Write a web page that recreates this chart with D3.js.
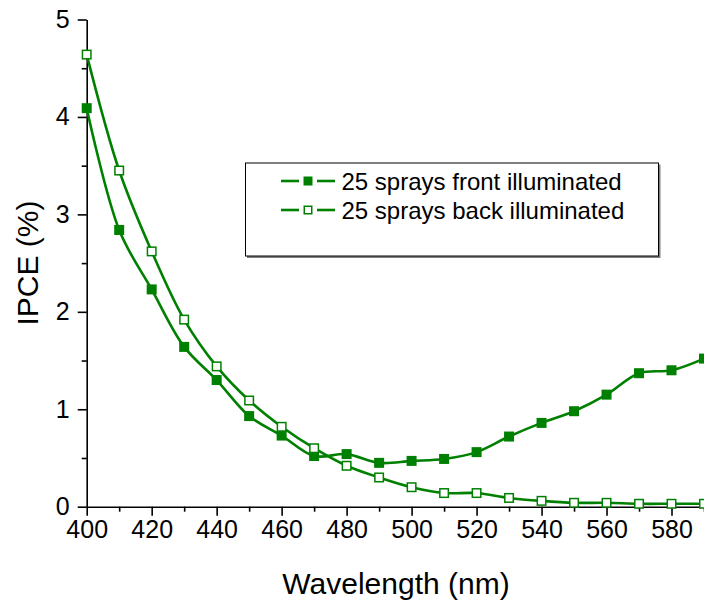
<!DOCTYPE html>
<html>
<head>
<meta charset="utf-8">
<script src="https://cdn.jsdelivr.net/npm/d3@7"></script>
<style>
    body { margin: 0; background: #fff; }
    text { font-family: Arial, "Liberation Sans", sans-serif; fill: #000; }
</style>
</head>
<body>
<svg id="chart"></svg>
<script>
// wavelength (nm)
const wavelengths = [400, 410, 420, 430, 440, 450, 460, 470, 480, 490, 500, 510, 520, 530, 540, 550, 560, 570, 580, 590];
// IPCE (%) for both illumination directions
const frontIpce = [4.09, 2.84, 2.23, 1.64, 1.30, 0.93, 0.73, 0.52, 0.54, 0.45, 0.47, 0.49, 0.56, 0.72, 0.86, 0.98, 1.15, 1.37, 1.40, 1.52];
const backIpce = [4.64, 3.45, 2.62, 1.92, 1.44, 1.09, 0.82, 0.60, 0.42, 0.30, 0.20, 0.14, 0.14, 0.09, 0.06, 0.04, 0.04, 0.03, 0.03, 0.03];
const seriesNames = ['25 sprays front illuminated', '25 sprays back illuminated'];
const xTicks = [400, 420, 440, 460, 480, 500, 520, 540, 560, 580];
const yTicks = [0, 1, 2, 3, 4, 5];

class LineChart {

    constructor(_config, _data) {
        this.config = {
            parentElement: _config.parentElement,
            containerWidth: _config.containerWidth || 704,
            containerHeight: _config.containerHeight || 600,
            margin: _config.margin || {top: 19.5, right: 0, bottom: 93.3, left: 86.7}
        }
        this.data = _data;
        this.initVis();
    }

    initVis() {
        let vis = this;

        vis.width = vis.config.containerWidth - vis.config.margin.left - vis.config.margin.right;
        vis.height = vis.config.containerHeight - vis.config.margin.top - vis.config.margin.bottom;

        vis.svg = d3.select(vis.config.parentElement)
            .attr('width', vis.config.containerWidth)
            .attr('height', vis.config.containerHeight);

        vis.chart = vis.svg.append('g')
            .attr('transform', `translate(${vis.config.margin.left},${vis.config.margin.top})`);

        vis.xScale = d3.scaleLinear()
            .domain([400, 590])
            .range([0, vis.width]);

        vis.yScale = d3.scaleLinear()
            .domain([0, 5])
            .range([vis.height, 0]);

        vis.green = '#008000';
        vis.renderVis();
    }

    renderVis() {
        let vis = this;

        // minor ticks first, then major ticks with labels
        vis.chart.append('g')
            .attr('transform', `translate(0,${vis.height})`)
            .call(d3.axisBottom(vis.xScale).tickValues(d3.range(410, 591, 20)).tickSize(5).tickFormat(''))
            .call(g => g.select('.domain').remove());

        vis.chart.append('g')
            .attr('transform', `translate(0,${vis.height})`)
            .call(d3.axisBottom(vis.xScale).tickValues(xTicks).tickSize(9).tickPadding(5).tickSizeOuter(0))
            .call(g => g.selectAll('text').style('font-size', '25px'))
            .call(g => g.selectAll('line, path').attr('stroke-width', 1.6));

        vis.chart.append('g')
            .call(d3.axisLeft(vis.yScale).tickValues(d3.range(0.5, 5, 1)).tickSize(5).tickFormat(''))
            .call(g => g.select('.domain').remove());

        vis.chart.append('g')
            .call(d3.axisLeft(vis.yScale).tickValues(yTicks).tickSize(9).tickPadding(8).tickSizeOuter(0).tickFormat(d3.format('d')))
            .call(g => g.selectAll('text').style('font-size', '25px'))
            .call(g => g.selectAll('line, path').attr('stroke-width', 1.6));

        vis.chart.selectAll('.tick line').attr('stroke-width', 1.6);

        // axis titles
        vis.svg.append('text')
            .attr('x', 396)
            .attr('y', 594)
            .style('text-anchor', 'middle')
            .style('font-size', '30px')
            .text('Wavelength (nm)');

        vis.svg.append('text')
            .attr('transform', `translate(38,${vis.config.margin.top + vis.height / 2}) rotate(-90)`)
            .style('text-anchor', 'middle')
            .style('font-size', '30px')
            .text('IPCE (%)');

        const line = d3.line()
            .x(d => vis.xScale(d.x))
            .y(d => vis.yScale(d.y))
            .curve(d3.curveCatmullRom.alpha(0.5));

        const series = vis.chart.selectAll('.series')
            .data(vis.data)
            .join('g')
            .attr('class', 'series');

        series.append('path')
            .attr('d', d => line(d.values))
            .attr('fill', 'none')
            .attr('stroke', vis.green)
            .attr('stroke-width', 2.6);

        const size = 10;
        series.selectAll('rect')
            .data(d => d.values.map(v => ({...v, filled: d.filled})))
            .join('rect')
            .attr('x', d => vis.xScale(d.x) - size / 2)
            .attr('y', d => vis.yScale(d.y) - size / 2)
            .attr('width', d => d.filled ? size : size - 1.5)
            .attr('height', d => d.filled ? size : size - 1.5)
            .attr('transform', d => d.filled ? null : 'translate(0.75,0.75)')
            .attr('fill', d => d.filled ? vis.green : '#fff')
            .attr('stroke', vis.green)
            .attr('stroke-width', d => d.filled ? 0 : 1.5);

        // legend box with grey shadow edges
        const lg = vis.svg.append('g').attr('transform', 'translate(245.5,163)');
        lg.append('rect')
            .attr('x', 1.5).attr('y', 1.5)
            .attr('width', 413.5).attr('height', 93.5)
            .attr('fill', '#808080');
        lg.append('rect')
            .attr('x', 0).attr('y', 0)
            .attr('width', 413).attr('height', 93)
            .attr('fill', '#fff')
            .attr('stroke', '#000')
            .attr('stroke-width', 1);

        vis.data.forEach((d, i) => {
            const row = lg.append('g').attr('transform', `translate(0,${18 + i * 29})`);
            row.append('line').attr('x1', 35.5).attr('x2', 53.5).attr('y1', 0).attr('y2', 0)
                .attr('stroke', vis.green).attr('stroke-width', 2.6);
            row.append('line').attr('x1', 71.5).attr('x2', 89.5).attr('y1', 0).attr('y2', 0)
                .attr('stroke', vis.green).attr('stroke-width', 2.6);
            const s = d.filled ? 9 : 7.5;
            row.append('rect')
                .attr('x', 62.5 - s / 2).attr('y', -s / 2)
                .attr('width', s).attr('height', s)
                .attr('fill', d.filled ? vis.green : '#fff')
                .attr('stroke', vis.green)
                .attr('stroke-width', d.filled ? 0 : 1.5);
            row.append('text')
                .attr('x', 96)
                .attr('y', 8.5)
                .style('font-size', '24px')
                .text(d.name);
        });
    }
}

const data = [
    {name: seriesNames[0], filled: true, values: wavelengths.map((w, i) => ({x: w, y: frontIpce[i]}))},
    {name: seriesNames[1], filled: false, values: wavelengths.map((w, i) => ({x: w, y: backIpce[i]}))}
];

new LineChart({parentElement: '#chart'}, data);
</script>
</body>
</html>
